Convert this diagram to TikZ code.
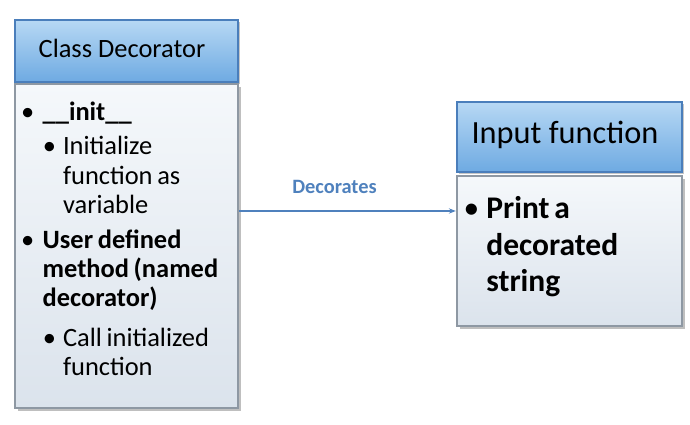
\documentclass[tikz,border=0pt]{standalone}
\usepackage{fontspec}
\setmainfont{Carlito}
\usepackage{xcolor}
\usepackage{enumitem}
\usetikzlibrary{shadows,arrows.meta}

\definecolor{headtop}{HTML}{B7D8F4}
\definecolor{headbot}{HTML}{6EAAE2}
\definecolor{headline}{HTML}{4A7EBB}
\definecolor{bodytop}{HTML}{F5F8FB}
\definecolor{bodybot}{HTML}{DBE3EC}
\definecolor{bodyline}{HTML}{8E98A3}
\definecolor{linkblue}{HTML}{4F81BD}

\begin{document}
\begin{tikzpicture}[x=0.025cm,y=-0.025cm]
			\tikzstyle{header}=[draw=headline, line width=1.6pt, top color=headtop, bottom color=headbot, drop shadow={shadow xshift=1.5pt, shadow yshift=-1.5pt, opacity=0.45}]
			\tikzstyle{body}=[draw=bodyline, line width=1.6pt, top color=bodytop, bottom color=bodybot, drop shadow={shadow xshift=2pt, shadow yshift=-2pt, opacity=0.5}]
			\tikzstyle{list}=[anchor=north west, inner sep=0pt, align=left]
			\tikzset{edge/.style = {draw=linkblue, line width=0.9pt, -{Stealth[length=5pt]}}}
			\useasboundingbox (0,0) rectangle (690,425);
			
			% class decorator
			\node[header, minimum width=5.575cm, minimum height=1.55cm](lhead) at (126.5,51) {};
			\node(ltitle) at (122,48) {\fontsize{18.8}{22}\selectfont Class Decorator};
			\node[body, minimum width=5.575cm, minimum height=8.1cm](lbody) at (126.5,246) {};
			\node[list, text width=5.2cm](ltext) at (22,90.5) {\fontsize{18.8}{20.8}\selectfont
				\begin{itemize}[leftmargin=14.5pt, labelsep=6pt, itemsep=4pt, topsep=0pt, parsep=0pt, partopsep=0pt]
				\item \textbf{\_\_init\_\_}
				\begin{itemize}[leftmargin=14.5pt, labelsep=5pt, topsep=4pt, itemsep=0pt, parsep=0pt, label=\textbullet]
				\item Initialize function as variable
				\end{itemize}
				\item \textbf{User defined method (named decorator)}
				\begin{itemize}[leftmargin=14.5pt, labelsep=5pt, topsep=7.5pt, itemsep=0pt, parsep=0pt, label=\textbullet]
				\item Call initialized function
				\end{itemize}
				\end{itemize}};
			
			% input function
			\node[header, minimum width=5.625cm, minimum height=1.75cm](rhead) at (569.5,137) {};
			\node(rtitle) at (565,135) {\fontsize{23}{27}\selectfont Input function};
			\node[body, minimum width=5.625cm, minimum height=3.75cm](rbody) at (569.5,251) {};
			\node[list, text width=5cm](rtext) at (465,182) {\fontsize{22.4}{26}\selectfont
				\begin{itemize}[leftmargin=15pt, labelsep=5pt, topsep=0pt, parsep=0pt]
				\item \textbf{Print a decorated string}
				\end{itemize}};
			
			\coordinate(tip) at ([yshift=1cm]rbody.west);
			\draw[edge](lbody.east |- tip) to node[pos=0.44, above=8.5pt, text=linkblue, font=\fontsize{14.5}{16}\selectfont\bfseries]{Decorates} (tip);
			
			\end{tikzpicture}
\end{document}
